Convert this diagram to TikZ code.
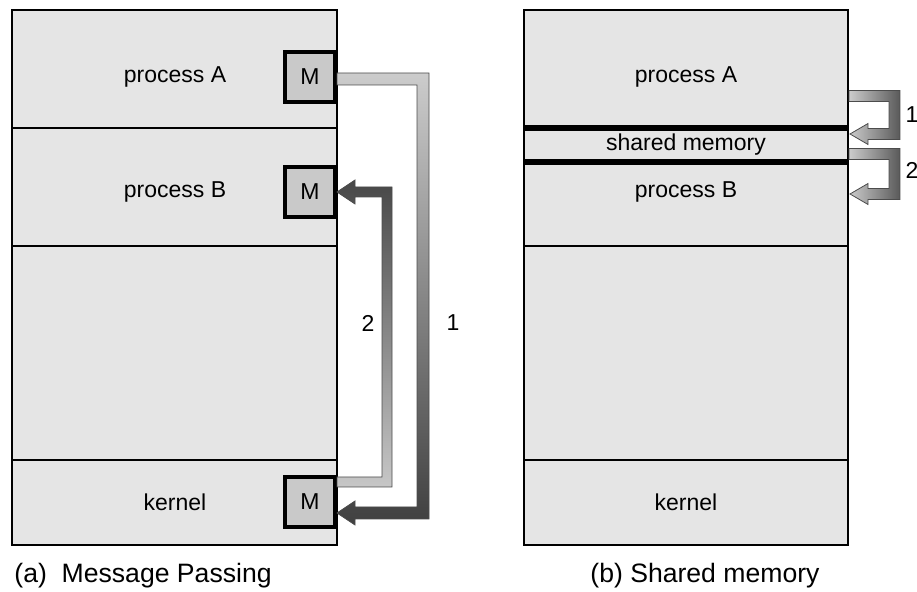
\documentclass[tikz,border=0pt]{standalone}
\usepackage{fontspec}
\setmainfont{Liberation Sans}
\usepackage[]{xcolor}
\usepackage{tikz}
\usetikzlibrary{calc}

\definecolor{panelgray}{gray}{0.90}
\definecolor{boxgray}{gray}{0.79}
\definecolor{edgegray}{gray}{0.30}

\tikzset{
  txt/.style={font=\fontsize{11.5}{13}\selectfont},
  captxt/.style={font=\fontsize{13.3}{15}\selectfont,anchor=west,inner sep=0pt},
  mbox/.style={draw,line width=2pt,fill=boxgray,minimum size=25pt,inner sep=0pt,
               font=\fontsize{11.5}{13}\selectfont},
  thin/.style={line width=0.75pt},
  shmline/.style={line width=3pt},
  arrowedge/.style={draw=edgegray,line width=0.4pt},
}

% #1 style, #2 start, #3 turn, #4 end, #5 signed half width, #6 head half height
\newcommand{\bentarrow}[6]{%
  \path[#1] let \p1=#2, \p2=#4, \p3=#3 in
    ({\x1},{\y1+(#5)}) -- ({\x3+abs(#5)},{\y1+(#5)}) -- ({\x3+abs(#5)},{\y2-(#5)})
    -- ({\x2+9pt},{\y2-(#5)}) -- ({\x2+9pt},{\y2-(#6)}) -- (\p2)
    -- ({\x2+9pt},{\y2+(#6)}) -- ({\x2+9pt},{\y2+(#5)})
    -- ({\x3-abs(#5)},{\y2+(#5)}) -- ({\x3-abs(#5)},{\y1-(#5)}) -- ({\x1},{\y1-(#5)}) -- cycle;}

\begin{document}
\begin{tikzpicture}[x=0.5pt,y=-0.5pt]
        \useasboundingbox (0,0) rectangle (917,592);
        % (a) message passing
        \draw[thin,fill=panelgray] (12,10) rectangle (337,545);
        \draw[thin] (12,128) -- (337,128);
        \draw[thin] (12,246) -- (337,246);
        \draw[thin] (12,460) -- (337,460);
        \node[txt] (procA) at (175,77) {process A};
        \node[txt] (procB) at (175,192) {process B};
        \node[txt] (kernA) at (175,502) {kernel};
        \node[mbox] (MA) at (310,77) {M};
        \node[mbox] (MB) at (310,192) {M};
        \node[mbox] (MK) at (310,502) {M};
        \coordinate (turnA) at (423,0);
        \coordinate (turnB) at (387,0);
        \bentarrow{arrowedge,top color=black!20,bottom color=black!75}
          {($(MA.east)+(0,2)$)}{(turnA)}{($(MK.east)+(0,11)$)}{3pt}{6pt}
        \bentarrow{arrowedge,top color=black!72,bottom color=black!22}
          {($(MK.east)+(0,-20)$)}{(turnB)}{(MB.east)}{-2.5pt}{6pt}
        \node[txt] (num2) at (368,323) {2};
        \node[txt] (num1) at (453,323) {1};
        \node[captxt] (capA) at (14,576) {(a)\ \ Message Passing};

        % (b) shared memory
        \draw[thin,fill=panelgray] (524,10) rectangle (848,545);
        \draw[shmline] (524,128) -- (848,128);
        \draw[shmline] (524,162) -- (848,162);
        \draw[thin] (524,246) -- (848,246);
        \draw[thin] (524,460) -- (848,460);
        \node[txt] (procC) at (686,77) {process A};
        \node[txt] (shm) at (686,145) {shared memory};
        \node[txt] (procD) at (686,192) {process B};
        \node[txt] (kernB) at (686,502) {kernel};
        \coordinate (out1) at (849,96);
        \coordinate (in1) at (850,134);
        \coordinate (out2) at (849,154);
        \coordinate (in2) at (850,194);
        \coordinate (turnC) at (894.5,0);
        \bentarrow{arrowedge,left color=black!20,right color=black!65}
          {(out1)}{(turnC)}{(in1)}{2.75pt}{5.25pt}
        \bentarrow{arrowedge,left color=black!20,right color=black!65}
          {(out2)}{(turnC)}{(in2)}{2.75pt}{5.25pt}
        \node[txt] (num3) at (912,115) {1};
        \node[txt] (num4) at (912,170) {2};
        \node[captxt] (capB) at (590,576) {(b) Shared memory};
\end{tikzpicture}
\end{document}
